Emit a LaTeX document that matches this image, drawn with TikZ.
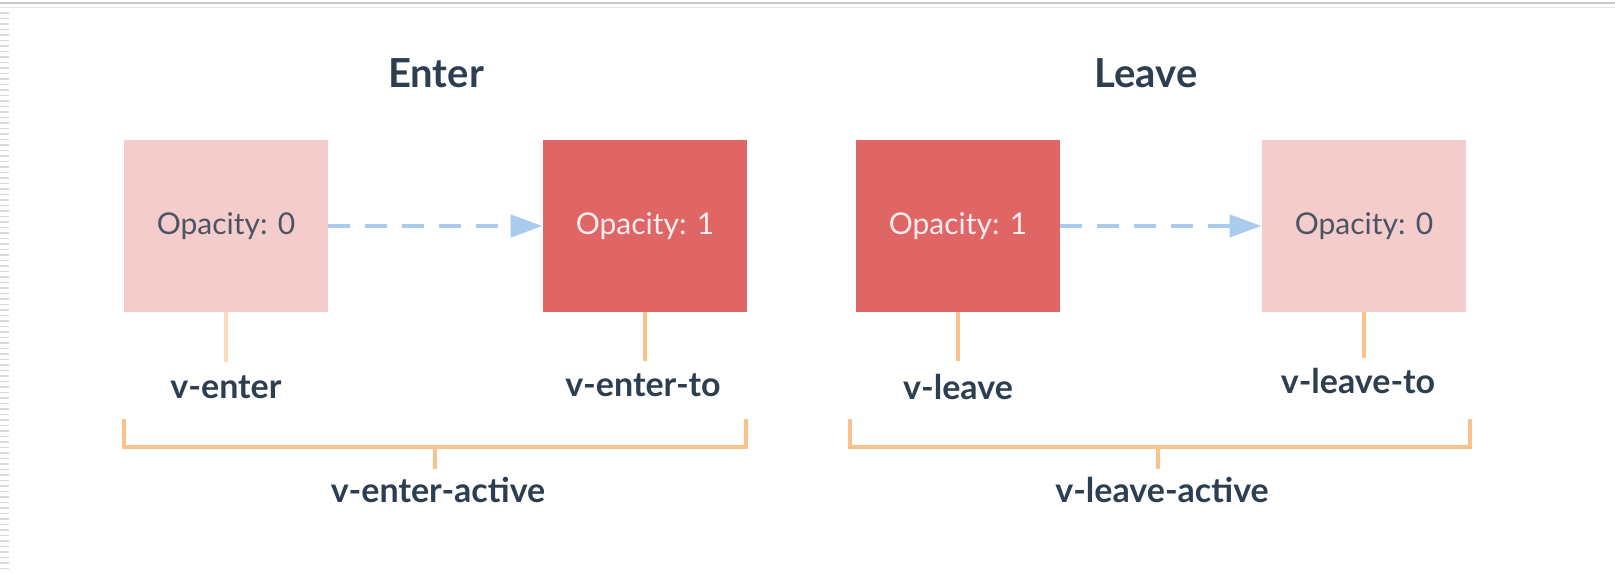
\documentclass[tikz,border=0pt]{standalone}
\usepackage{fontspec}
\setmainfont{Lato}
\usetikzlibrary{arrows.meta}
\definecolor{palered}{HTML}{F4CCCC}
\definecolor{deepred}{HTML}{E06666}
\definecolor{fadeblue}{HTML}{A8CBEE}
\definecolor{peach}{HTML}{F8C38C}
\definecolor{palepeach}{HTML}{FBDCBA}
\definecolor{slate}{HTML}{2C3E50}
\definecolor{boxtext}{HTML}{4A5563}

\begin{document}
\begin{tikzpicture}[x=0.5pt,y=-0.5pt,
  statebox/.style={minimum width=102pt,minimum height=86pt,inner sep=0pt,font=\fontsize{15}{18}\selectfont},
  pale/.style={statebox,fill=palered,text=boxtext},
  deep/.style={statebox,fill=deepred,text=white!88!deepred},
  fade/.style={fadeblue,line width=2pt,dash pattern=on 11pt off 7.5pt,-{Triangle[length=16pt,width=11pt]}},
  stem/.style={peach,line width=2pt},
  bracket/.style={peach,line width=2pt},
  classname/.style={text=slate,font=\bfseries\fontsize{17}{20}\selectfont},
  heading/.style={text=slate,font=\bfseries\fontsize{20}{24}\selectfont}]

\useasboundingbox (0,0) rectangle (1615,573);

% frame of the screenshot
\draw[black!22,line width=0.8pt] (0,2.7)--(1615,2.7);
\draw[black!10,line width=0.8pt] (0,7.3)--(1615,7.3);
\foreach \y in {13,18.5,...,573} \draw[black!15,line width=0.6pt] (0,\y)--(9,\y);

% titles
\node[heading] (enter) at (436,73) {Enter};
\node[heading] (leave) at (1146,73) {Leave};

% states
\node[pale] (e0) at (226,226) {Opacity: 0};
\node[deep] (e1) at (645,226) {Opacity: 1};
\node[deep] (l1) at (958,226) {Opacity: 1};
\node[pale] (l0) at (1364,226) {Opacity: 0};

\draw[fade] (e0.east)--(e1.west);
\draw[fade] (l1.east)--(l0.west);

% class names
\coordinate (e0s) at (226,362);
\coordinate (e1s) at (645,361);
\coordinate (l1s) at (958,361);
\coordinate (l0s) at (1364,358);
\draw[stem,palepeach] (e0.south)--(e0s);
\draw[stem] (e1.south)--(e1s);
\draw[stem] (l1.south)--(l1s);
\draw[stem] (l0.south)--(l0s);
\node[classname] (venter) at (226,387) {v-enter};
\node[classname] (ventert) at (643,385) {v-enter-to};
\node[classname] (vleave) at (958,387) {v-leave};
\node[classname] (vleavet) at (1358,381) {v-leave-to};

% active brackets
\coordinate (ebl) at (124,419);
\coordinate (ebr) at (746,419);
\coordinate (ebm) at (435,447);
\coordinate (ebt) at (435,469);
\draw[bracket] (ebl)--++(0,28)-|(ebr);
\draw[bracket] (ebm)--(ebt);
\node[classname] (venteract) at (438,490) {v-enter-active};

\coordinate (lbl) at (850,419);
\coordinate (lbr) at (1470,419);
\coordinate (lbm) at (1158,447);
\coordinate (lbt) at (1158,469);
\draw[bracket] (lbl)--++(0,28)-|(lbr);
\draw[bracket] (lbm)--(lbt);
\node[classname] (vleaveact) at (1162,490) {v-leave-active};

\end{tikzpicture}
\end{document}
